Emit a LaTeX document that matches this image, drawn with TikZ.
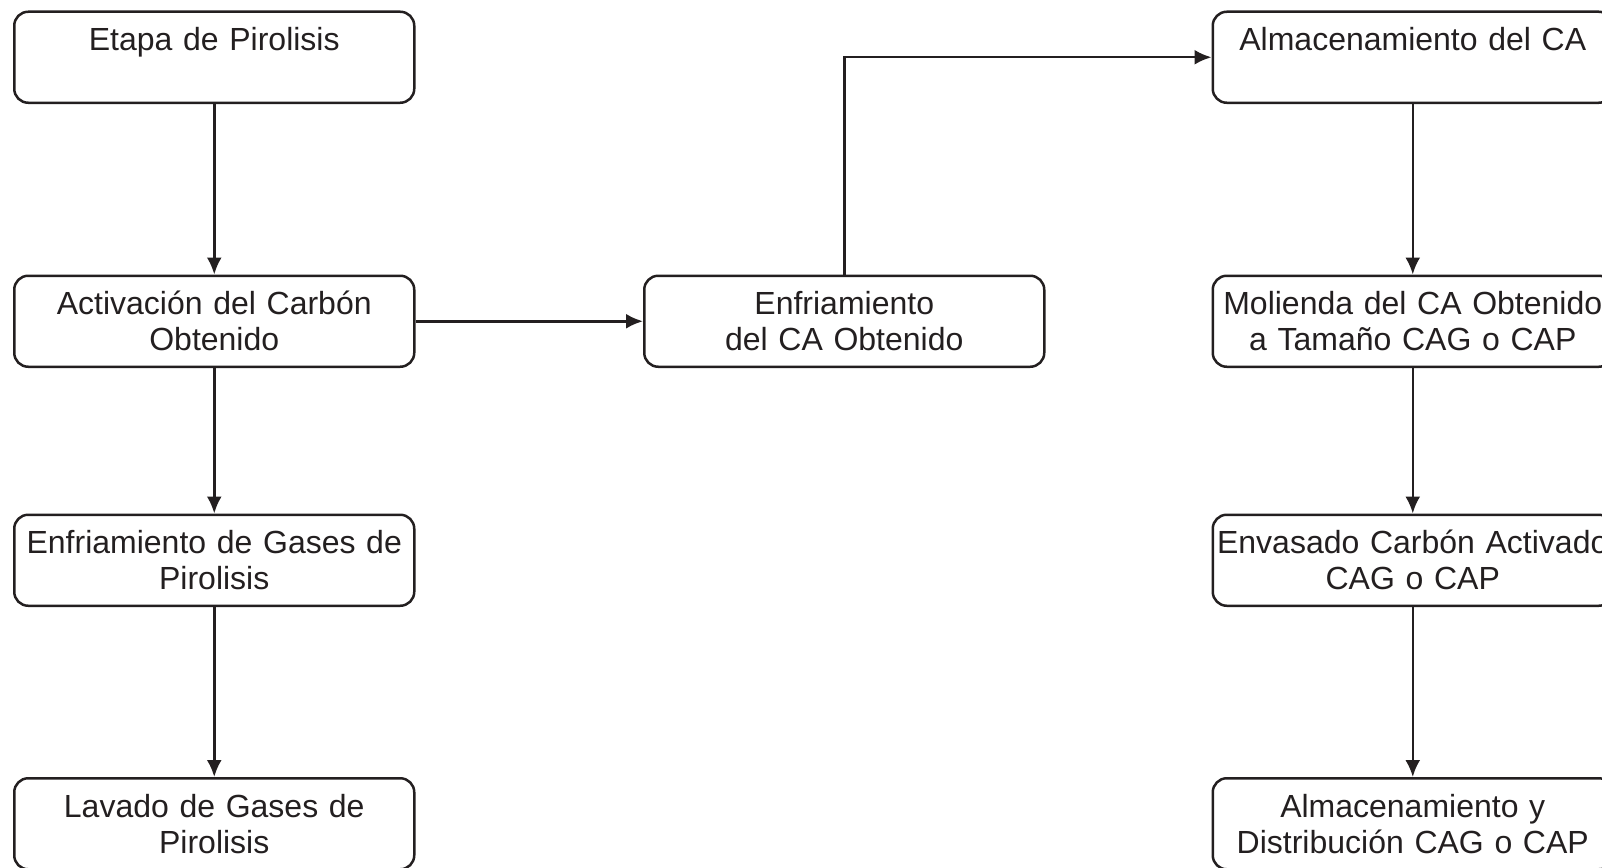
\documentclass[tikz,border=0pt]{standalone}
\usepackage{fontspec}
\setmainfont{Liberation Sans}
\usetikzlibrary{arrows.meta,positioning}
\definecolor{ink}{HTML}{231F20}

\begin{document}
\begin{tikzpicture}
		[x=1pt,y=1pt,node distance=170.5pt and 227.5pt,
		 >={Latex[length=17pt,width=15pt]},line width=2.5pt,
		 rblock/.style = {draw=ink, shape=rectangle, rounded corners=14pt,
						  text width=400pt, minimum height=91pt, inner sep=0pt,
						  align=center, text=ink,
						  font=\fontsize{32}{36}\selectfont},
		 link/.style = {draw=ink, ->},
		]
		\useasboundingbox (0,0) rectangle (1602,-867);

		% left column
		\node [rblock, anchor=north west] (pyro) at (13,-10.5) {Etapa de Pirolisis\\ \mbox{}};
		\node [rblock, below=of pyro]          (activ)    {Activación del Carbón\\ Obtenido};
		\node [rblock, below=145.5pt of activ] (gascool)  {Enfriamiento de Gases de\\ Pirolisis};
		\node [rblock, below=170pt of gascool] (gaswash)  {Lavado de Gases de\\ Pirolisis};

		% middle
		\node [rblock, right=of activ]         (cool)     {Enfriamiento\\ del CA Obtenido};

		% right column
		\node [rblock, right=166pt of cool]    (mill)     {Molienda del CA Obtenido\\ a Tamaño CAG o CAP};
		\node [rblock, above=of mill]          (store)    {Almacenamiento del CA\\ \mbox{}};
		\node [rblock, below=145.5pt of mill]  (pack)     {Envasado Carbón Activado\\ CAG o CAP};
		\node [rblock, below=170pt of pack]    (distrib)  {Almacenamiento y\\ Distribución CAG o CAP};

		\draw[link] (pyro) -- (activ);
		\draw[link] (activ) -- (gascool);
		\draw[link] (gascool) -- (gaswash);
		\draw[link] (activ) -- (cool);
		\draw[link] (cool) |- (store);
		\draw[link] (store) -- (mill);
		\draw[link] (mill) -- (pack);
		\draw[link] (pack) -- (distrib);
\end{tikzpicture}
\end{document}
